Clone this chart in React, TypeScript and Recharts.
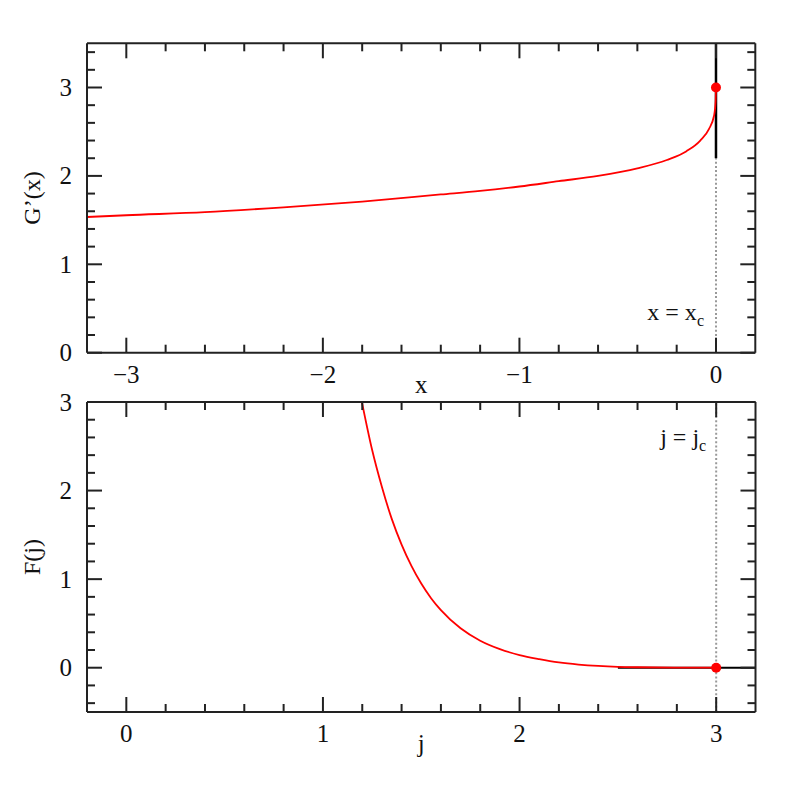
import React from 'react';
import { ComposedChart, Line, XAxis, YAxis, ReferenceLine, ReferenceDot } from 'recharts';

// ---- Top panel: G'(x) ----
const gX = [-3.2, -3.0, -2.6, -2.2, -1.8, -1.4, -1.2, -1.0, -0.8, -0.6, -0.4, -0.25, -0.15, -0.08, -0.036, -0.01, -0.002, 0];
const gY = [1.535, 1.555, 1.59, 1.645, 1.71, 1.79, 1.83, 1.88, 1.94, 2.0, 2.085, 2.18, 2.28, 2.4, 2.53, 2.68, 2.84, 3.0];
const gCritX = [0, 0];
const gCritY = [2.2, 3.5];
const gDot = { x: 0, y: 3 };
const gDottedY = [0, 2.2];

// ---- Bottom panel: F(j) ----
const fJ = [1.198, 1.25, 1.3, 1.35, 1.4, 1.45, 1.5, 1.55, 1.6, 1.7, 1.8, 1.9, 2.0, 2.1, 2.2, 2.3, 2.4, 2.5, 2.6, 2.8, 3.0];
const fY = [3.0, 2.46, 2.04, 1.68, 1.39, 1.15, 0.95, 0.785, 0.65, 0.445, 0.305, 0.21, 0.143, 0.097, 0.06, 0.036, 0.02, 0.01, 0.005, 0.001, 0.0];
const fFlatJ = [2.5, 3.2];
const fFlatY = [0, 0];
const fDot = { x: 3, y: 0 };

// ---- Axes ----
const topXDomain = [-3.2, 0.2];
const topYDomain = [0, 3.5];
const botXDomain = [-0.2, 3.2];
const botYDomain = [-0.5, 3];
const topXTicks = [-3.0, -2.8, -2.6, -2.4, -2.2, -2.0, -1.8, -1.6, -1.4, -1.2, -1.0, -0.8, -0.6, -0.4, -0.2, 0.0];
const topYTicks = [0, 0.2, 0.4, 0.6, 0.8, 1.0, 1.2, 1.4, 1.6, 1.8, 2.0, 2.2, 2.4, 2.6, 2.8, 3.0, 3.2, 3.4];
const botXTicks = [0, 0.2, 0.4, 0.6, 0.8, 1.0, 1.2, 1.4, 1.6, 1.8, 2.0, 2.2, 2.4, 2.6, 2.8, 3.0];
const botYTicks = [-0.4, -0.2, 0, 0.2, 0.4, 0.6, 0.8, 1.0, 1.2, 1.4, 1.6, 1.8, 2.0, 2.2, 2.4, 2.6, 2.8, 3.0];

const gData = gX.map((x, i) => ({ x, y: gY[i] }));
const gCrit = gCritX.map((x, i) => ({ x, y: gCritY[i] }));
const gDotted = gDottedY.map((y) => ({ x: 0, y }));
const fData = fJ.map((x, i) => ({ x, y: fY[i] }));
const fFlat = fFlatJ.map((x, i) => ({ x, y: fFlatY[i] }));

const FONT = '"Liberation Serif", "Times New Roman", serif';
const AX = '#222';
const MAJOR = 15;
const MINOR = 8;
const isMajor = (v: number) => Math.abs(v - Math.round(v)) < 1e-6;
const fmt = (v: number) => {
  const r = Math.round(v);
  return r < 0 ? '\u2212' + Math.abs(r) : String(r);
};

const BottomTick = (props: any) => {
  const { x, y, payload } = props;
  const v = payload.value;
  const len = isMajor(v) ? MAJOR : MINOR;
  return (
    <g>
      <line x1={x} x2={x} y1={y} y2={y - len} stroke={AX} strokeWidth={2} />
      {isMajor(v) && (
        <text x={x} y={y + 30} textAnchor="middle" fontFamily={FONT} fontSize={25} fill="#111">
          {fmt(v)}
        </text>
      )}
    </g>
  );
};
const TopTick = (props: any) => {
  const { x, y, payload } = props;
  const len = isMajor(payload.value) ? MAJOR : MINOR;
  return <line x1={x} x2={x} y1={y} y2={y + len} stroke={AX} strokeWidth={2} />;
};
const LeftTick = (props: any) => {
  const { x, y, payload } = props;
  const v = payload.value;
  const len = isMajor(v) ? MAJOR : MINOR;
  return (
    <g>
      <line x1={x} x2={x + len} y1={y} y2={y} stroke={AX} strokeWidth={2} />
      {isMajor(v) && (
        <text x={x - 15} y={y + 8.5} textAnchor="end" fontFamily={FONT} fontSize={25} fill="#111">
          {fmt(v)}
        </text>
      )}
    </g>
  );
};
const RightTick = (props: any) => {
  const { x, y, payload } = props;
  const len = isMajor(payload.value) ? MAJOR : MINOR;
  return <line x1={x} x2={x - len} y1={y} y2={y} stroke={AX} strokeWidth={2} />;
};

const xLabel = (text: string) => (p: any) => {
  const vb = p.viewBox || {};
  return (
    <text x={vb.x + vb.width / 2} y={vb.y + 40} textAnchor="middle" fontFamily={FONT} fontSize={25} fill="#111">
      {text}
    </text>
  );
};
const yLabel = (text: string) => (p: any) => {
  const vb = p.viewBox || {};
  const cx = vb.x + vb.width - 55;
  const cy = vb.y + vb.height / 2;
  return (
    <text
      x={cx}
      y={cy}
      textAnchor="middle"
      dominantBaseline="central"
      transform={`rotate(-90, ${cx}, ${cy})`}
      fontFamily={FONT}
      fontSize={24}
      fill="#111"
    >
      {text}
    </text>
  );
};
const critLabel = (main: string, sub: string, dx: number) => (p: any) => {
  const vb = p.viewBox || {};
  const cx = vb.x + (vb.width || 0) / 2;
  const cy = vb.y + (vb.height || 0) / 2;
  return (
    <text x={cx - dx} y={cy} textAnchor="end" fontFamily={FONT} fontSize={24} fill="#111">
      {main}
      <tspan fontSize={16} dy={6}>{sub}</tspan>
    </text>
  );
};

const axisCommon = {
  axisLine: { stroke: AX, strokeWidth: 2 },
  tickLine: false,
  tickSize: 0,
  tickMargin: 0,
  interval: 0 as const,
  allowDataOverflow: true,
};

export default function App() {
  return (
    <div style={{ position: 'absolute', left: 0, top: 0, width: 797, height: 797, background: '#fff' }}>
      <div style={{ position: 'absolute', left: 0, top: 0 }}>
        <ComposedChart width={797} height={400} margin={{ top: 33.3, right: 31.7, bottom: 17.3, left: 27 }}>
          <XAxis dataKey="x" type="number" domain={topXDomain} ticks={topXTicks} height={30} tick={<BottomTick />} label={{ content: xLabel('x') }} {...axisCommon} />
          <XAxis xAxisId="top" orientation="top" dataKey="x" type="number" domain={topXDomain} ticks={topXTicks} height={10} tick={<TopTick />} {...axisCommon} />
          <YAxis type="number" domain={topYDomain} ticks={topYTicks} width={60} tick={<LeftTick />} label={{ content: yLabel('G\u2019(x)') }} {...axisCommon} />
          <YAxis yAxisId="right" orientation="right" type="number" domain={topYDomain} ticks={topYTicks} width={10} tick={<RightTick />} {...axisCommon} />
          <Line data={gDotted} dataKey="y" stroke="#999" strokeWidth={2} strokeDasharray="2 2.2" dot={false} isAnimationActive={false} />
          <Line data={gCrit} dataKey="y" stroke="#000" strokeWidth={2.5} dot={false} isAnimationActive={false} />
          <Line data={gData} dataKey="y" type="monotone" stroke="#ff0000" strokeWidth={1.8} dot={false} isAnimationActive={false} />
          <ReferenceDot x={gDot.x} y={gDot.y} r={5} fill="#ff0000" stroke="none" />
          <ReferenceDot x={0} y={0.37} r={0} fill="none" stroke="none" label={{ content: critLabel('x = x', 'c', 12) }} />
        </ComposedChart>
      </div>
      <div style={{ position: 'absolute', left: 0, top: 380 }}>
        <ComposedChart width={797} height={417} margin={{ top: 12, right: 31.5, bottom: 55, left: 27 }}>
          <XAxis dataKey="x" type="number" domain={botXDomain} ticks={botXTicks} height={30} tick={<BottomTick />} label={{ content: xLabel('j') }} {...axisCommon} />
          <XAxis xAxisId="top" orientation="top" dataKey="x" type="number" domain={botXDomain} ticks={botXTicks} height={10} tick={<TopTick />} {...axisCommon} />
          <YAxis type="number" domain={botYDomain} ticks={botYTicks} width={60} tick={<LeftTick />} label={{ content: yLabel('F(j)') }} {...axisCommon} />
          <YAxis yAxisId="right" orientation="right" type="number" domain={botYDomain} ticks={botYTicks} width={10} tick={<RightTick />} {...axisCommon} />
          <ReferenceLine x={3} stroke="#999" strokeWidth={2} strokeDasharray="2 2.2" />
          <Line data={fFlat} dataKey="y" stroke="#000" strokeWidth={2} dot={false} isAnimationActive={false} />
          <Line data={fData} dataKey="y" type="monotone" stroke="#ff0000" strokeWidth={1.8} dot={false} isAnimationActive={false} />
          <ReferenceDot x={fDot.x} y={fDot.y} r={5} fill="#ff0000" stroke="none" />
          <ReferenceDot x={3} y={2.52} r={0} fill="none" stroke="none" label={{ content: critLabel('j = j', 'c', 10) }} />
        </ComposedChart>
      </div>
    </div>
  );
}
